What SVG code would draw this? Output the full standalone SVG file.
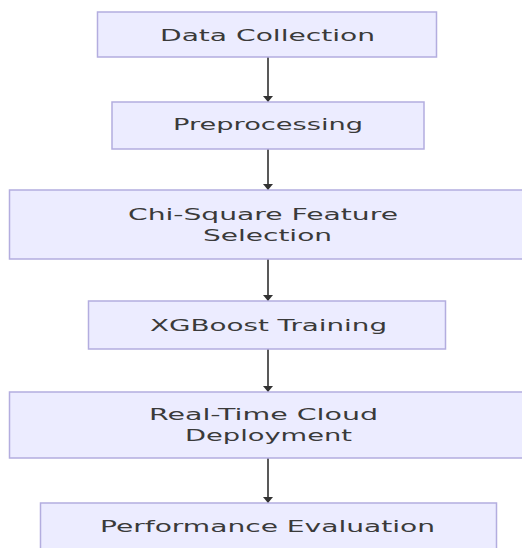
<svg xmlns="http://www.w3.org/2000/svg" width="522" height="548" viewBox="0 0 522 548">
  <defs>
    <marker id="arrow" viewBox="0 0 6 10" refX="6" refY="5" markerWidth="6" markerHeight="10" markerUnits="userSpaceOnUse" orient="auto">
      <path d="M0,0 L6,5 L0,10 z" fill="#333333"/>
    </marker>
    <style>
      .node rect { fill: #ECECFF; stroke: #b3addf; stroke-width: 1.5; }
      .node text { font-family: "DejaVu Sans", Verdana, sans-serif; font-size: 16px; fill: #3a3a3a; text-anchor: middle; }
      .edge { stroke: #595959; stroke-width: 2; fill: none; marker-end: url(#arrow); }
    </style>
  </defs>
  <rect width="522" height="548" fill="#ffffff"/>
  <g id="connectors">
    <line class="edge" x1="268" y1="57" x2="268" y2="102"/>
    <line class="edge" x1="268" y1="149" x2="268" y2="190"/>
    <line class="edge" x1="268" y1="259" x2="268" y2="301"/>
    <line class="edge" x1="268" y1="349" x2="268" y2="392"/>
    <line class="edge" x1="268" y1="458" x2="268" y2="503"/>
  </g>
  <g id="data-collection" class="node">
    <rect x="97.5" y="12" width="339" height="45"/>
    <text x="267.5" y="41" textLength="215" lengthAdjust="spacingAndGlyphs">Data Collection</text>
  </g>
  <g id="preprocessing" class="node">
    <rect x="112" y="102" width="312" height="47"/>
    <text x="268" y="130" textLength="190" lengthAdjust="spacingAndGlyphs">Preprocessing</text>
  </g>
  <g id="chi-square" class="node">
    <rect x="9.5" y="190" width="520" height="69"/>
    <text x="263" y="220" textLength="270" lengthAdjust="spacingAndGlyphs">Chi-Square Feature</text>
    <text x="267.5" y="241" textLength="129" lengthAdjust="spacingAndGlyphs">Selection</text>
  </g>
  <g id="xgboost" class="node">
    <rect x="88.5" y="301" width="357" height="48"/>
    <text x="268.5" y="331" textLength="237" lengthAdjust="spacingAndGlyphs">XGBoost Training</text>
  </g>
  <g id="deployment" class="node">
    <rect x="9.5" y="392" width="520" height="66"/>
    <text x="263.5" y="420" textLength="229" lengthAdjust="spacingAndGlyphs">Real-Time Cloud</text>
    <text x="268.5" y="441" textLength="167" lengthAdjust="spacingAndGlyphs">Deployment</text>
  </g>
  <g id="evaluation" class="node">
    <rect x="40.5" y="503" width="456" height="50"/>
    <text x="267.5" y="532" textLength="335" lengthAdjust="spacingAndGlyphs">Performance Evaluation</text>
  </g>
</svg>
